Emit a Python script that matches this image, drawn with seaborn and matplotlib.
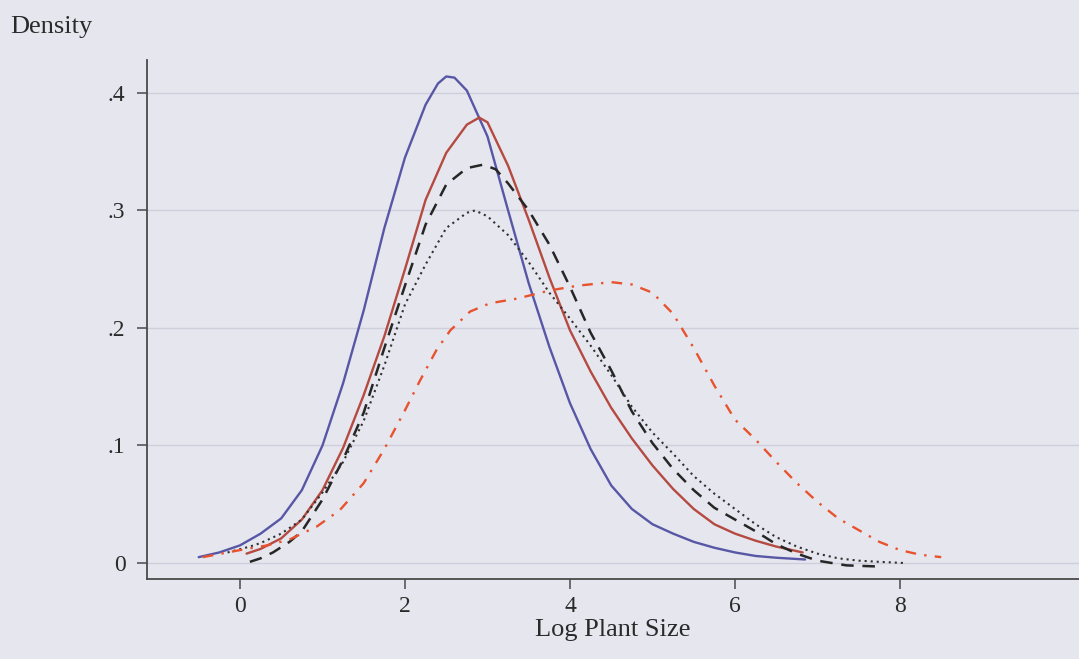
import matplotlib
matplotlib.use("Agg")
import matplotlib.pyplot as plt
import seaborn as sns
import pandas as pd

# ---- data ----
blue_x = [-0.5, -0.25, 0, 0.25, 0.5, 0.75, 1.0, 1.25, 1.5, 1.75, 2.0, 2.25, 2.4, 2.5, 2.6, 2.75,
          3.0, 3.25, 3.5, 3.75, 4.0, 4.25, 4.5, 4.75, 5.0, 5.25, 5.5, 5.75, 6.0, 6.25, 6.5, 6.85]
blue_y = [0.005, 0.009, 0.015, 0.025, 0.038, 0.062, 0.100, 0.153, 0.215, 0.285, 0.345, 0.390,
          0.408, 0.414, 0.413, 0.402, 0.363, 0.300, 0.238, 0.184, 0.136, 0.097, 0.066, 0.046,
          0.033, 0.025, 0.018, 0.013, 0.009, 0.006, 0.0045, 0.003]

red_x = [0.08, 0.25, 0.5, 0.75, 1.0, 1.25, 1.5, 1.75, 2.0, 2.25, 2.5, 2.75, 2.9, 3.0, 3.25, 3.5,
         3.75, 4.0, 4.25, 4.5, 4.75, 5.0, 5.25, 5.5, 5.75, 6.0, 6.25, 6.5, 6.82]
red_y = [0.008, 0.012, 0.021, 0.037, 0.062, 0.098, 0.143, 0.193, 0.250, 0.309, 0.349, 0.373, 0.379,
         0.375, 0.338, 0.292, 0.243, 0.198, 0.163, 0.132, 0.106, 0.083, 0.063, 0.046, 0.033, 0.025,
         0.019, 0.014, 0.009]

dash_x = [0.12, 0.25, 0.4, 0.6, 0.75, 1.0, 1.25, 1.5, 1.75, 2.0, 2.25, 2.5, 2.75, 2.95, 3.1, 3.25,
          3.5, 3.75, 4.0, 4.25, 4.5, 4.75, 5.0, 5.25, 5.5, 5.75, 6.0, 6.25, 6.5, 6.75, 7.0, 7.35, 7.75]
dash_y = [0.001, 0.004, 0.009, 0.018, 0.027, 0.054, 0.088, 0.128, 0.183, 0.236, 0.288, 0.322, 0.336,
          0.339, 0.335, 0.323, 0.300, 0.271, 0.235, 0.196, 0.164, 0.129, 0.102, 0.080, 0.062, 0.047,
          0.037, 0.027, 0.016, 0.008, 0.002, -0.002, -0.003]

dot_x = [-0.15, 0.12, 0.25, 0.5, 0.75, 1.0, 1.25, 1.5, 1.75, 2.0, 2.25, 2.5, 2.75, 2.85, 3.0, 3.25,
         3.5, 3.75, 4.0, 4.25, 4.5, 4.75, 5.0, 5.25, 5.5, 5.75, 6.0, 6.25, 6.5, 6.75, 7.0, 7.25,
         7.5, 7.75, 8.05]
dot_y = [0.009, 0.014, 0.017, 0.025, 0.037, 0.060, 0.086, 0.121, 0.168, 0.220, 0.254, 0.285, 0.298,
         0.300, 0.295, 0.279, 0.256, 0.230, 0.208, 0.185, 0.160, 0.133, 0.111, 0.093, 0.074, 0.059,
         0.046, 0.033, 0.022, 0.014, 0.008, 0.004, 0.002, 0.001, 0.0]

dd_x = [-0.45, 0.0, 0.33, 0.6, 0.93, 1.21, 1.5, 1.75, 2.0, 2.18, 2.38, 2.55, 2.79, 3.03, 3.36,
        3.76, 4.1, 4.5, 4.75, 5.0, 5.25, 5.5, 5.75, 6.0, 6.25, 6.5, 6.75, 7.0, 7.25, 7.5, 7.75,
        8.0, 8.25, 8.5]
dd_y = [0.005, 0.011, 0.015, 0.020, 0.031, 0.045, 0.068, 0.097, 0.130, 0.155, 0.181, 0.198, 0.214,
        0.221, 0.225, 0.232, 0.236, 0.239, 0.237, 0.230, 0.212, 0.183, 0.151, 0.122, 0.105, 0.086,
        0.068, 0.052, 0.038, 0.028, 0.018, 0.011, 0.007, 0.005]

y_ticks = [0, 0.1, 0.2, 0.3, 0.4]
y_ticklabels = ["0", ".1", ".2", ".3", ".4"]
x_ticks = [0, 2, 4, 6, 8]
x_ticklabels = ["0", "2", "4", "6", "8"]

# ---- styling ----
sns.set_theme(style="white")
plt.rcParams["font.family"] = ["Liberation Serif", "DejaVu Serif"]

BG = "#e6e6ef"
fig = plt.figure(figsize=(10.79, 6.59), dpi=100, facecolor=BG)
ax = fig.add_axes([147 / 1079, 80 / 659, 1 - 147 / 1079, (579 - 60) / 659])
ax.set_facecolor(BG)

for yv in y_ticks:
    ax.axhline(yv, color="#cfcfdc", lw=1.0, zorder=0)

series = [
    (blue_x, blue_y, "#5757a6", "-", 1.7),
    (red_x, red_y, "#b44a40", "-", 1.7),
    (dash_x, dash_y, "#262626", (0, (5, 3.5)), 1.8),
    (dot_x, dot_y, "#303030", (0, (1, 1.9)), 1.5),
    (dd_x, dd_y, "#e8532e", (0, (4.5, 3.5, 1, 3.5)), 1.7),
]
for xs, ys, c, ls, lw in series:
    df = pd.DataFrame({"x": xs, "y": ys})
    sns.lineplot(data=df, x="x", y="y", ax=ax, color=c, linestyle=ls, lw=lw,
                 errorbar=None, sort=False)

ax.set_xlim(-1.127, 10.17)
ax.set_ylim(-0.0136, 0.428)

ax.set_xticks(x_ticks)
ax.set_xticklabels(x_ticklabels)
ax.set_yticks(y_ticks)
ax.set_yticklabels(y_ticklabels)
ax.tick_params(axis="both", which="major", length=7.5, width=1.1, color="#4a4a4a",
               labelsize=17, labelcolor="#2a2a2a", direction="out")
ax.tick_params(axis="y", pad=8)
ax.tick_params(axis="x", pad=5)
ax.tick_params(left=True, bottom=True)

for s in ["top", "right"]:
    ax.spines[s].set_visible(False)
for s in ["left", "bottom"]:
    ax.spines[s].set_color("#4a4a4a")
    ax.spines[s].set_linewidth(1.3)

ax.set_xlabel("Log Plant Size", fontsize=19, color="#2a2a2a", labelpad=1)
ax.set_ylabel("")
fig.text(10 / 1079, 1 - 33 / 659, "Density", fontsize=19, color="#2a2a2a",
         ha="left", va="baseline")

fig.savefig("out.png", dpi=100, facecolor=BG)
